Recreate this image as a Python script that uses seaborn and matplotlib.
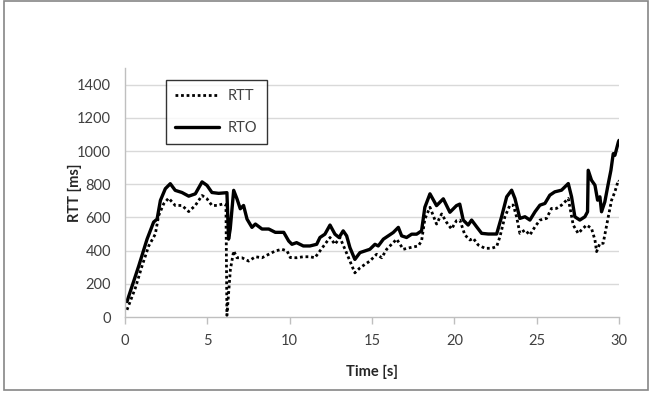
import matplotlib
matplotlib.use("Agg")
import matplotlib.pyplot as plt
import seaborn as sns
import pandas as pd
from matplotlib.patches import Rectangle

# RTO samples (time in s, value in ms)
rto_t = [0.12, 0.83, 1.34, 1.74, 1.95, 2.15, 2.45, 2.75, 3.05, 3.46, 3.87, 4.27, 4.68, 4.98,
         5.28, 5.69, 6.19, 6.29, 6.39, 6.6, 6.8, 7.0, 7.2, 7.41, 7.71, 7.92, 8.32, 8.73, 9.13,
         9.64, 9.94, 10.14, 10.42, 10.83, 11.23, 11.64, 11.84, 12.14, 12.45, 12.75, 13.0, 13.25,
         13.46, 13.66, 13.96, 14.27, 14.57, 14.87, 15.18, 15.38, 15.69, 15.99, 16.29, 16.6, 16.8,
         17.1, 17.41, 17.71, 18.01, 18.21, 18.52, 18.92, 19.33, 19.73, 20.13, 20.33, 20.54, 20.84,
         21.05, 21.35, 21.66, 22.06, 22.57, 22.87, 23.18, 23.48, 23.68, 23.98, 24.29, 24.59, 24.9,
         25.2, 25.5, 25.8, 26.1, 26.51, 26.92, 27.12, 27.32, 27.62, 27.93, 28.09, 28.13, 28.33,
         28.54, 28.7, 28.84, 28.94, 29.14, 29.35, 29.51, 29.65, 29.75, 29.96, 30.0]
rto_v = [93, 306, 469, 572, 590, 702, 773, 803, 763, 750, 728, 742, 814, 793,
         750, 745, 749, 469, 530, 763, 712, 652, 672, 590, 540, 560, 530, 530, 510,
         510, 458, 438, 448, 428, 428, 438, 479, 499, 554, 499, 479, 519,
         489, 418, 347, 388, 398, 408, 438, 428, 469, 489, 509, 540, 489,
         479, 499, 499, 519, 661, 742, 671, 712, 631, 671, 680, 584, 554,
         584, 544, 504, 500, 500, 604, 724, 764, 714, 594, 604, 584, 634,
         674, 684, 734, 754, 764, 804, 724, 604, 584, 604, 634, 884, 824,
         794, 704, 724, 634, 694, 804, 884, 984, 974, 1054, 1064]

# RTT samples
rtt_t = [0.12, 0.63, 1.03, 1.44, 1.84, 2.04, 2.35, 2.65, 3.05, 3.46, 3.87, 4.27, 4.68, 4.98,
         5.28, 5.59, 5.99, 6.13, 6.19, 6.4, 6.6, 6.8, 7.1, 7.51, 7.92, 8.32, 8.73, 9.13, 9.53,
         9.84, 10.04, 10.42, 10.83, 11.23, 11.53, 11.84, 12.14, 12.45, 12.75, 13.05, 13.36,
         13.66, 13.96, 14.27, 14.57, 14.87, 15.28, 15.59, 15.89, 16.19, 16.5, 16.9, 17.31,
         17.81, 18.01, 18.21, 18.52, 18.92, 19.23, 19.53, 19.83, 20.13, 20.34, 20.64, 20.95,
         21.15, 21.45, 21.86, 22.26, 22.57, 22.77, 23.07, 23.38, 23.58, 23.78, 23.98, 24.29,
         24.59, 24.9, 25.2, 25.6, 25.9, 26.2, 26.51, 26.92, 27.22, 27.52, 27.72, 28.03, 28.33,
         28.54, 28.64, 28.84, 29.04, 29.35, 29.55, 29.75, 29.96, 30.0]
rtt_v = [43, 175, 306, 428, 499, 610, 682, 716, 672, 672, 635, 672, 732, 712,
         672, 672, 682, 676, 10, 286, 398, 357, 357, 337, 363, 357, 378, 398, 408,
         398, 358, 357, 363, 363, 357, 398, 438, 479, 438, 479, 408,
         337, 266, 296, 317, 337, 378, 357, 408, 438, 469, 408, 418,
         428, 458, 590, 661, 560, 621, 570, 530, 580, 584, 494, 464,
         474, 434, 414, 414, 424, 484, 604, 674, 674, 604, 504, 524,
         494, 544, 584, 594, 654, 654, 674, 714, 554, 504, 524, 554, 534,
         464, 394, 444, 444, 604, 704, 754, 824, 820]

x_ticks = [0, 5, 10, 15, 20, 25, 30]
y_ticks = [0, 200, 400, 600, 800, 1000, 1200, 1400]

sns.set_style("white")
plt.rcParams["font.family"] = ["Lato", "DejaVu Sans"]

fig = plt.figure(figsize=(6.5, 3.94), dpi=100)
ax = fig.add_axes([0.1923, 0.1954, 0.76, 0.632])

grid_c = "#d9d9d9"
axis_c = "#bfbfbf"
text_c = "#404040"

rtt_df = pd.DataFrame({"t": rtt_t, "v": rtt_v})
rto_df = pd.DataFrame({"t": rto_t, "v": rto_v})

sns.lineplot(data=rtt_df, x="t", y="v", ax=ax, color="black", lw=2.0,
             linestyle=(0, (1, 1)), label="RTT")
sns.lineplot(data=rto_df, x="t", y="v", ax=ax, color="black", lw=2.4,
             label="RTO")

ax.set_xlim(0, 30)
ax.set_ylim(0, 1500)
ax.set_xticks(x_ticks)
ax.set_yticks(y_ticks)
ax.set_xticklabels([str(v) for v in x_ticks])
ax.set_yticklabels([str(v) for v in y_ticks])
for y in y_ticks[1:]:
    ax.axhline(y, color=grid_c, lw=1, zorder=0)

for s in ["top", "right"]:
    ax.spines[s].set_visible(False)
for s in ["left", "bottom"]:
    ax.spines[s].set_color(axis_c)
    ax.spines[s].set_linewidth(1)

ax.tick_params(axis="x", length=5, width=1, color=axis_c, direction="out",
               labelsize=10.5, labelcolor=text_c, pad=7, bottom=True)
ax.tick_params(axis="y", length=0, labelsize=10.5, labelcolor=text_c, pad=10)

ax.set_xlabel("Time [s]", fontsize=10.5, fontweight="bold", color="#262626")
ax.set_ylabel("RTT [ms]", fontsize=10.5, fontweight="bold", color="#262626")
ax.xaxis.set_label_coords(0.5, -0.193)
ax.yaxis.set_label_coords(-0.088, 0.5)

leg = ax.legend(loc="upper left", bbox_to_anchor=(166 / 650, 1 - 80 / 394),
                bbox_transform=fig.transFigure, borderaxespad=0, frameon=True,
                fancybox=False, edgecolor="black", fontsize=10.5, handlelength=3.0,
                handletextpad=0.6, labelspacing=1.2, borderpad=0.65)
leg.get_frame().set_linewidth(1)
for txt in leg.get_texts():
    txt.set_color(text_c)

# chart area border
fig.patches.append(Rectangle((4 / 650, 4 / 394), 644 / 650, 389 / 394,
                             transform=fig.transFigure, fill=False,
                             edgecolor="#868686", lw=1.2))

fig.savefig("out.png", dpi=100)
